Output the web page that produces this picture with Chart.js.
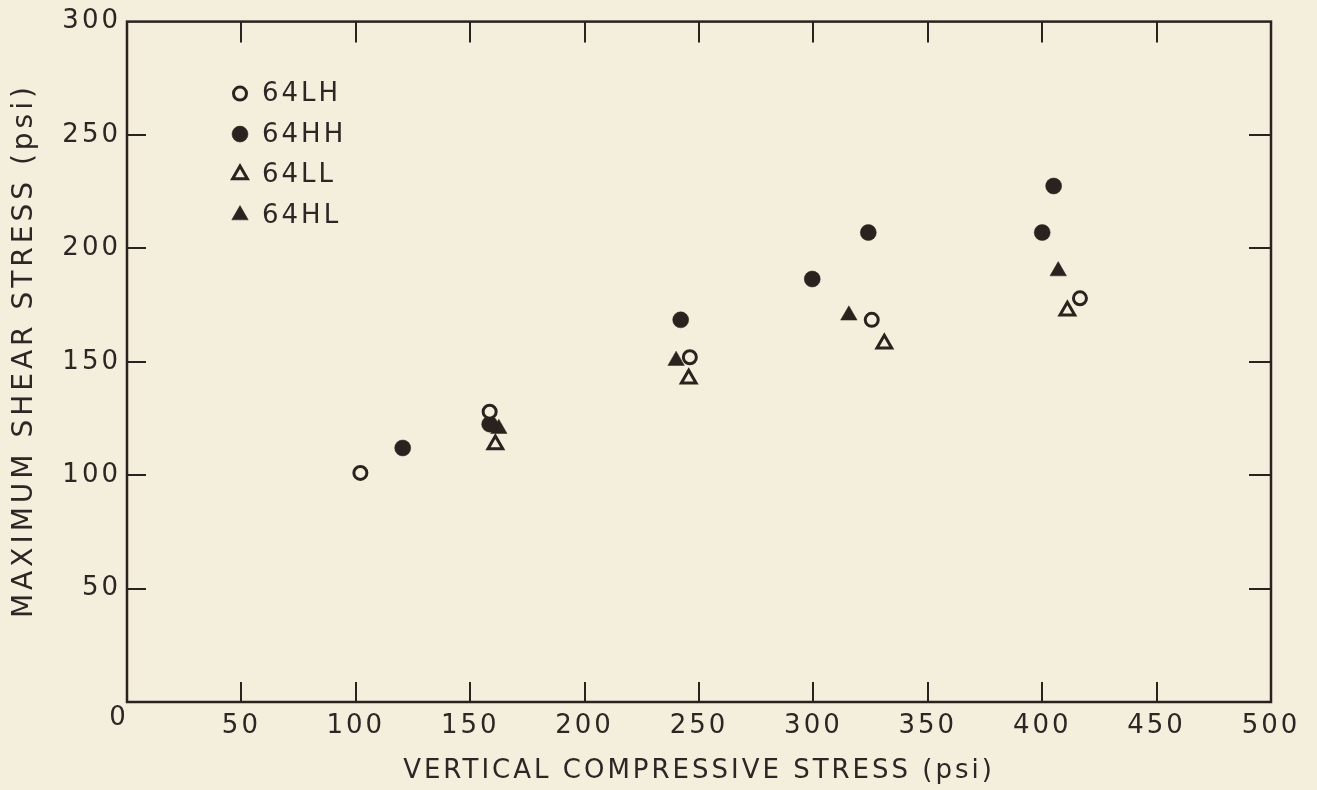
<!DOCTYPE html>
<html>
<head>
<meta charset="utf-8">
<script src="https://cdn.jsdelivr.net/npm/chart.js@4.4.0/dist/chart.umd.min.js"></script>
<style>
html, body { margin:0; padding:0; background:#f4eedc; }
canvas { display:block; }
</style>
</head>
<body>
<canvas id="canvas" width="1317" height="790"></canvas>
<script>

// values (psi)
let series_names = ['64LH', '64HH', '64LL', '64HL']

let lh_x = [102, 158.5, 246, 325.5, 416.5]
let lh_y = [101, 128, 152, 168.5, 178]

let hh_x = [120.5, 158.5, 242, 299.5, 324, 400, 405]
let hh_y = [112, 122.5, 168.5, 186.5, 207, 207, 227.5]

let ll_x = [161, 245.5, 331, 411]
let ll_y = [113.5, 142.5, 158, 172.5]

let hl_x = [162.5, 240, 315.5, 407]
let hl_y = [120.5, 150.5, 170.5, 190]

let x_ticks = [0, 50, 100, 150, 200, 250, 300, 350, 400, 450, 500]
let y_ticks = [0, 50, 100, 150, 200, 250, 300]

let x_title = 'VERTICAL COMPRESSIVE STRESS (psi)'
let y_title = 'MAXIMUM SHEAR STRESS (psi)'

var paper = '#f4eedc'
var ink = '#29221f'
var textcol = '#2c2724'
var fam = '"DejaVu Sans", Arial, sans-serif'

function pts(xs, ys) {
    return xs.map((x, i) => ({ x: x, y: ys[i] }))
}

// frame with inward ticks, the lone corner "0", y title and the legend inside the plot
var framePlugin = {
    id: 'frame',
    beforeDraw(chart) {
        let ctx = chart.ctx
        ctx.save()
        ctx.fillStyle = paper
        ctx.fillRect(0, 0, chart.width, chart.height)
        ctx.restore()
        ctx.letterSpacing = '3px'
    },
    beforeDatasetsDraw(chart) {
        let ctx = chart.ctx
        let a = chart.chartArea
        let xs = chart.scales.x
        let ys = chart.scales.y
        ctx.save()
        ctx.strokeStyle = ink
        ctx.lineWidth = 2.5
        ctx.strokeRect(a.left, a.top, a.right - a.left, a.bottom - a.top)
        ctx.lineWidth = 2
        ctx.beginPath()
        x_ticks.forEach(v => {
            if (v == x_ticks[0] || v == x_ticks[x_ticks.length - 1]) return
            let px = Math.round(xs.getPixelForValue(v))
            ctx.moveTo(px, a.bottom); ctx.lineTo(px, a.bottom - 20)
            ctx.moveTo(px, a.top); ctx.lineTo(px, a.top + 21)
        })
        y_ticks.forEach(v => {
            if (v == y_ticks[0] || v == y_ticks[y_ticks.length - 1]) return
            let py = Math.round(ys.getPixelForValue(v))
            ctx.moveTo(a.left, py); ctx.lineTo(a.left + 19, py)
            ctx.moveTo(a.right, py); ctx.lineTo(a.right - 22, py)
        })
        ctx.stroke()

        ctx.fillStyle = textcol
        ctx.font = '26px ' + fam
        ctx.textAlign = 'center'
        ctx.textBaseline = 'middle'
        ctx.fillText('0', xs.getPixelForValue(0) - 8, ys.getPixelForValue(0) + 16)

        // y title, drawn by hand so it can sit a little above the plot centre like the original
        ctx.save()
        ctx.translate(25, ys.getPixelForValue(y_ticks[y_ticks.length - 1]) + 331)
        ctx.rotate(-Math.PI / 2)
        ctx.font = '28px ' + fam
        ctx.letterSpacing = '4px'
        ctx.fillText(y_title, 2, 0)
        ctx.restore()
        ctx.restore()
    },
    afterDatasetsDraw(chart) {
        let ctx = chart.ctx
        let a = chart.chartArea
        ctx.save()
        ctx.font = '26px ' + fam
        ctx.textAlign = 'left'
        ctx.textBaseline = 'middle'
        ctx.fillStyle = textcol
        chart.data.datasets.forEach((ds, i) => {
            let y = a.top + 72 + i * 40.5
            let x = a.left + 113
            ctx.save()
            ctx.strokeStyle = ds.pointBorderColor
            ctx.fillStyle = ds.pointBackgroundColor
            ctx.lineWidth = ds.pointBorderWidth
            Chart.helpers.drawPoint(ctx, {
                pointStyle: ds.pointStyle,
                radius: ds.pointRadius,
                borderWidth: ds.pointBorderWidth,
                rotation: 0
            }, x, y)
            ctx.restore()
            ctx.fillText(ds.label, x + 22, y + 1)
        })
        ctx.restore()
    }
}

let tickFont = { family: fam, size: 26 }

let ctx = document.getElementById('canvas').getContext('2d')
let myChart = new Chart(ctx, {
    type: 'scatter',
    data: {
        datasets: [{
            label: series_names[0],
            data: pts(lh_x, lh_y),
            pointStyle: 'circle',
            pointRadius: 6.5,
            pointBorderWidth: 3,
            pointBorderColor: ink,
            pointBackgroundColor: paper
        }, {
            label: series_names[1],
            data: pts(hh_x, hh_y),
            pointStyle: 'circle',
            pointRadius: 8,
            pointBorderWidth: 0.5,
            pointBorderColor: ink,
            pointBackgroundColor: ink
        }, {
            label: series_names[2],
            data: pts(ll_x, ll_y),
            pointStyle: 'triangle',
            pointRadius: 8.5,
            pointBorderWidth: 3,
            pointBorderColor: ink,
            pointBackgroundColor: 'rgba(0,0,0,0)'
        }, {
            label: series_names[3],
            data: pts(hl_x, hl_y),
            pointStyle: 'triangle',
            pointRadius: 9.5,
            pointBorderWidth: 0.5,
            pointBorderColor: ink,
            pointBackgroundColor: ink
        }]
    },
    options: {
        responsive: false,
        animation: false,
        devicePixelRatio: 1,
        layout: { padding: { top: 20, right: 46, left: 0, bottom: 0 } },
        plugins: {
            legend: { display: false },
            tooltip: { enabled: false }
        },
        scales: {
            x: {
                type: 'linear',
                min: 0,
                max: 500,
                afterBuildTicks: s => { s.ticks = x_ticks.map(v => ({ value: v })) },
                afterFit: s => { s.height = 88 },
                grid: { display: false, drawTicks: false },
                border: { display: false },
                ticks: {
                    padding: 9,
                    color: textcol,
                    font: tickFont,
                    autoSkip: false,
                    maxRotation: 0,
                    callback: v => v == 0 ? '' : v
                },
                title: {
                    display: true,
                    text: x_title,
                    color: textcol,
                    font: { family: fam, size: 26 },
                    padding: { top: 0, bottom: 3 }
                }
            },
            y: {
                type: 'linear',
                min: 0,
                max: 300,
                afterBuildTicks: s => { s.ticks = y_ticks.map(v => ({ value: v })) },
                afterFit: s => { s.width = 127 },
                grid: { display: false, drawTicks: false },
                border: { display: false },
                ticks: {
                    padding: 6,
                    color: textcol,
                    font: tickFont,
                    autoSkip: false,
                    callback: v => v == 0 ? '' : v
                }
            }
        }
    },
    plugins: [framePlugin]
})

</script>
</body>
</html>
